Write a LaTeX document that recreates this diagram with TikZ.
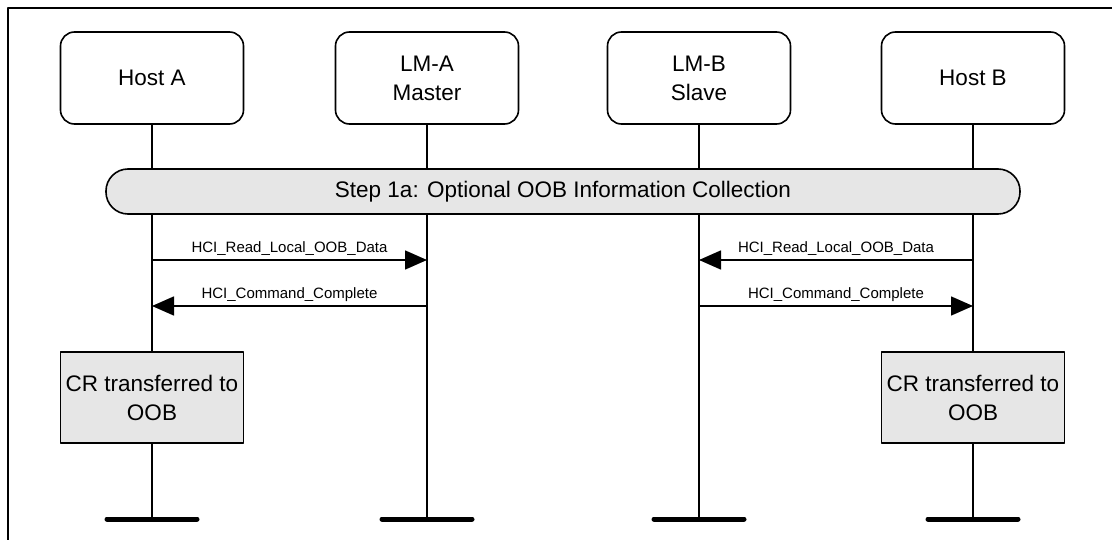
\documentclass[tikz,border=0pt]{standalone}
\usepackage{fontspec}
\setmainfont{Liberation Sans}
\usetikzlibrary{arrows.meta}
\definecolor{boxgray}{HTML}{E6E6E6}

\begin{document}
\begin{tikzpicture}[x=1pt, y=-1pt, line cap=round, line join=round,
    entity/.style={draw, line width=1.6pt, rounded corners=14pt, fill=white,
      minimum width=183pt, minimum height=92pt, align=center, inner sep=0pt,
      font=\fontsize{22.5}{29}\selectfont},
    phase/.style={draw, line width=1.6pt, rounded corners=22pt, fill=boxgray,
      minimum width=914pt, minimum height=45pt, inner sep=0pt,
      font=\fontsize{22.5}{27}\selectfont},
    action/.style={draw, line width=1.6pt, fill=boxgray, minimum width=183pt,
      minimum height=91pt, align=center, inner sep=0pt,
      font=\fontsize{22.5}{29}\selectfont},
    life/.style={line width=1.6pt},
    msg/.style={line width=1.6pt, line cap=butt, -{Triangle[length=22pt, width=19pt]}},
    msglabel/.style={above, inner sep=4pt, font=\fontsize{15}{18}\selectfont},
    endbar/.style={line width=5pt}]
  \useasboundingbox (0,0) rectangle (1112,540);
  \draw[line width=1.6pt] (8,540) -- (8,8) -- (1112,8);
  % participants
  \node[entity] (hosta) at (152,78) {Host A};
  \node[entity] (lma) at (427,78) {LM-A\\Master};
  \node[entity] (lmb) at (699,78) {LM-B\\Slave};
  \node[entity] (hostb) at (973,78) {Host B};
  \node[phase] (step) at (563,191.5) {Step 1a: Optional OOB Information Collection};
  \node[action] (cra) at (152,397.5) {CR transferred to\\OOB};
  \node[action] (crb) at (973,397.5) {CR transferred to\\OOB};
  \coordinate (hosta-end) at (152,519);
  \coordinate (lma-end) at (427,519);
  \coordinate (lmb-end) at (699,519);
  \coordinate (hostb-end) at (973,519);
  \coordinate (row1) at (0,260);
  \coordinate (row2) at (0,306);
  % lifelines
  \draw[life] (hosta) -- (hosta |- step.north);
  \draw[life] (hosta |- step.south) -- (cra);
  \draw[life] (cra) -- (hosta-end);
  \draw[life] (lma) -- (lma |- step.north);
  \draw[life] (lma |- step.south) -- (lma-end);
  \draw[life] (lmb) -- (lmb |- step.north);
  \draw[life] (lmb |- step.south) -- (lmb-end);
  \draw[life] (hostb) -- (hostb |- step.north);
  \draw[life] (hostb |- step.south) -- (crb);
  \draw[life] (crb) -- (hostb-end);
  % messages
  \draw[msg] (hosta |- row1) -- node[msglabel] {HCI\_Read\_Local\_OOB\_Data} (lma |- row1);
  \draw[msg] (lma |- row2) -- node[msglabel] {HCI\_Command\_Complete} (hosta |- row2);
  \draw[msg] (hostb |- row1) -- node[msglabel] {HCI\_Read\_Local\_OOB\_Data} (lmb |- row1);
  \draw[msg] (lmb |- row2) -- node[msglabel] {HCI\_Command\_Complete} (hostb |- row2);
  % end bars
  \draw[endbar] ([xshift=-45pt]hosta-end) -- ([xshift=45pt]hosta-end);
  \draw[endbar] ([xshift=-45pt]lma-end) -- ([xshift=45pt]lma-end);
  \draw[endbar] ([xshift=-45pt]lmb-end) -- ([xshift=45pt]lmb-end);
  \draw[endbar] ([xshift=-45pt]hostb-end) -- ([xshift=45pt]hostb-end);
\end{tikzpicture}
\end{document}
